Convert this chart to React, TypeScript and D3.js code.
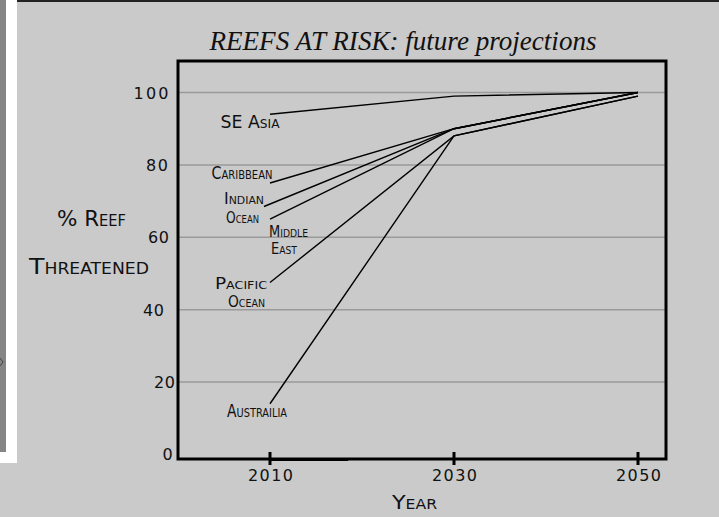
import * as d3 from 'd3';

// chart data
const years = [2010, 2030, 2050];
const seAsia = [94, 99, 100];
const caribbean = [75, 90, 100];
const indianOcean = [68.5, 90, 100];
const middleEast = [65, 90, 100];
const pacificOcean = [47.5, 88, 99];
const australia = [14, 88, 99];

const seriesNames = ['SE Asia', 'Caribbean', 'Indian Ocean', 'Middle East', 'Pacific Ocean', 'Austrailia'];
const seriesValues = [seAsia, caribbean, indianOcean, middleEast, pacificOcean, australia];

const yTicks = [0, 20, 40, 60, 80, 100];
const gridTicks = [20, 40, 60, 80, 100];

// label placement (hand placed in the original)
const labelLayout = [
  { lines: ['SE Asia'], x: [250], y: 122, gap: 0, size: 17, w: [59] },
  { lines: ['Caribbean'], x: [242], y: 173, gap: 0, size: 17, w: [61] },
  { lines: ['Indian', 'Ocean'], x: [244, 242.5], y: 198, gap: 18.5, size: 16, w: [40, 33] },
  { lines: ['Middle', 'East'], x: [288.5, 284], y: 231, gap: 17, size: 15.5, w: [39, 26] },
  { lines: ['Pacific', 'Ocean'], x: [241, 246.5], y: 283, gap: 18, size: 16, w: [52, 37] },
  { lines: ['Austrailia'], x: [257], y: 411, gap: 0, size: 17, w: [60] },
];
const lineStartX = [270, 270, 264, 270, 270, 270];
const yTickX: Record<number, number> = { 100: 151, 80: 157, 60: 158.5, 40: 153.5, 20: 164.5, 0: 167.5 };
const yTickW: Record<number, number> = { 100: 35, 80: 22, 60: 21, 40: 21, 20: 21, 0: 9 };

const W = 719;
const H = 517;
const plot = { left: 178, right: 666, top: 61, bottom: 459 };

const labelFont = '"DejaVu Sans Condensed", "DejaVu Sans", sans-serif';

export default function App() {
  const x = d3.scaleLinear().domain([2010, 2050]).range([270, 638]);
  const y = d3.scaleLinear().domain([0, 100]).range([454.4, 92.5]);

  const line = d3.line<[number, number]>()
    .x(d => x(d[0]))
    .y(d => y(d[1]));

  return (
    <svg width={W} height={H} style={{ position: 'absolute', left: 0, top: 0, display: 'block' }}>
      <rect x={0} y={0} width={W} height={H} fill="#cacaca" />
      {/* left frame remnant */}
      <rect x={0} y={0} width={17} height={463} fill="#ffffff" />
      <rect x={0} y={0} width={6} height={452} fill="#858585" />
      <rect x={17} y={0} width={W - 17} height={2} fill="#222" />
      <path d="M0,358 L3,362 L0,366" fill="none" stroke="#333" strokeWidth={0.8} />

      {/* title */}
      <text x={403} y={50} textAnchor="middle" fontFamily='"Liberation Serif", serif' fontStyle="italic"
        fontSize={28} textLength={387} lengthAdjust="spacingAndGlyphs" fill="#111">
        REEFS AT RISK: future projections
      </text>

      {/* gridlines */}
      {gridTicks.map(t => (
        <line key={t} x1={plot.left} x2={plot.right} y1={y(t)} y2={y(t)} stroke="#9a9a9a" strokeWidth={1.5} />
      ))}

      {/* series lines */}
      {seriesValues.map((vals, i) => {
        const pts: [number, number][] = years.map((yr, j) => [yr, vals[j]]);
        pts[0] = [x.invert(lineStartX[i]), vals[0]];
        return <path key={seriesNames[i]} d={line(pts) || ''} fill="none" stroke="#000" strokeWidth={1.4} />;
      })}

      {/* frame */}
      <rect x={plot.left} y={plot.top} width={plot.right - plot.left} height={plot.bottom - plot.top}
        fill="none" stroke="#000" strokeWidth={3} />
      <line x1={x(2010)} x2={x(2018.5)} y1={plot.bottom + 0.5} y2={plot.bottom + 0.5} stroke="#000" strokeWidth={3} />

      {/* x ticks */}
      {years.map(yr => (
        <g key={yr}>
          <line x1={x(yr)} x2={x(yr)} y1={452} y2={465} stroke="#000" strokeWidth={3} />
          <text x={x(yr) + 0.5} y={481} textAnchor="middle" fontFamily='"DejaVu Sans", sans-serif' fontSize={16}
            textLength={45} lengthAdjust="spacing" fill="#111">{yr}</text>
        </g>
      ))}

      {/* y tick labels */}
      {yTicks.map(t => (
        <text key={t} x={yTickX[t]} y={y(t) + 6} textAnchor="middle" fontFamily='"DejaVu Sans", sans-serif'
          fontSize={16} textLength={yTickW[t]} lengthAdjust="spacing" fill="#111">{t}</text>
      ))}

      {/* axis titles */}
      <text x={91.5} y={226} textAnchor="middle" fontFamily={labelFont} fontSize={22} fontVariant="small-caps"
        textLength={69} lengthAdjust="spacingAndGlyphs" fill="#111">% Reef</text>
      <text x={89} y={274} textAnchor="middle" fontFamily={labelFont} fontSize={22} fontVariant="small-caps"
        textLength={120} lengthAdjust="spacingAndGlyphs" fill="#111">Threatened</text>
      <text x={414.5} y={509} textAnchor="middle" fontFamily={labelFont} fontSize={20} fontVariant="small-caps"
        textLength={45} lengthAdjust="spacingAndGlyphs" fill="#111">Year</text>

      {/* series labels */}
      {labelLayout.map((lab, i) => (
        <g key={seriesNames[i]}>
          {lab.lines.map((s, k) => (
            <text key={s} x={lab.x[k]} y={lab.y + k * lab.gap + lab.size * 0.38}
              textAnchor="middle" fontFamily={labelFont} fontSize={lab.size} fontVariant="small-caps"
              textLength={lab.w[k]} lengthAdjust="spacingAndGlyphs" fill="#111">{s}</text>
          ))}
        </g>
      ))}
    </svg>
  );
}
